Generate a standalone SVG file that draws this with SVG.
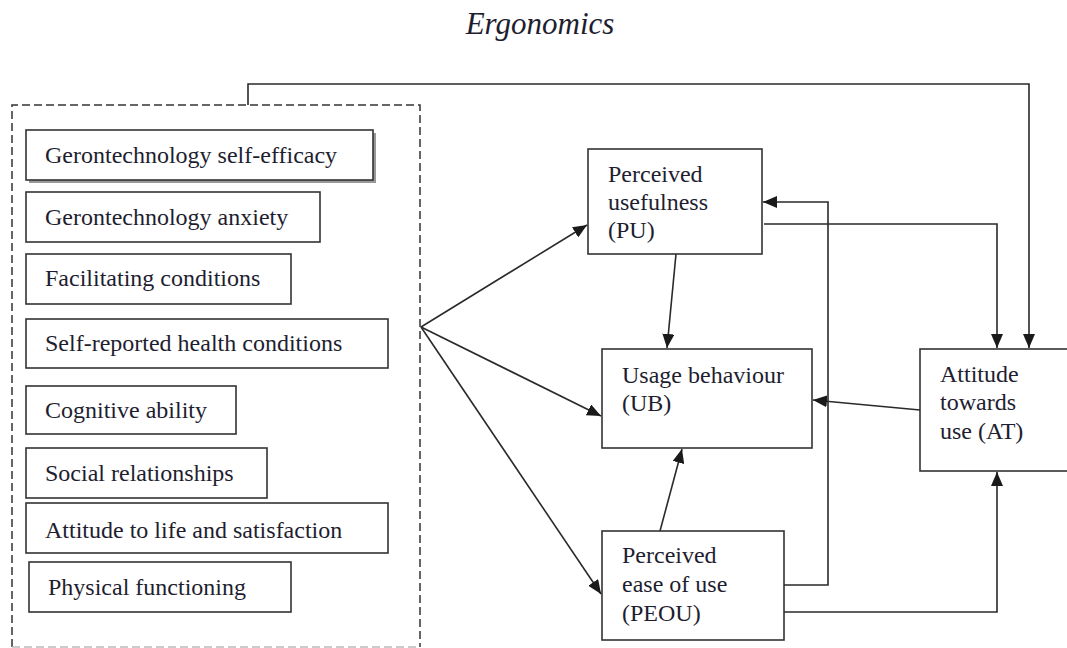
<svg xmlns="http://www.w3.org/2000/svg" width="1067" height="648" viewBox="0 0 1067 648">
<style>
.box{fill:#fff;stroke:#333;stroke-width:1.6}
.t{font-family:"Liberation Serif","Times New Roman",serif;font-size:24px;fill:#1e1e30}
.c{fill:none;stroke:#2a2a2a;stroke-width:1.6}
.title{font-family:"Liberation Serif","Times New Roman",serif;font-size:31px;font-style:italic;fill:#1e1e30}
</style>
<defs>
<marker id="ah" markerUnits="userSpaceOnUse" markerWidth="15" markerHeight="12" refX="14" refY="6" orient="auto">
<path d="M0,0 L14,6 L0,12 z" fill="#1a1a1a"/>
</marker>
</defs>
<rect width="1067" height="648" fill="#fff"/>
<text class="title" x="540" y="34" text-anchor="middle">Ergonomics</text>

<g id="group-factors">
<path d="M12,647 L12,105 L420,105 L420,647" fill="none" stroke="#333" stroke-width="1.5" stroke-dasharray="8,4"/>
<path d="M12,647 L420,647" fill="none" stroke="#bbb" stroke-width="1.5" stroke-dasharray="8,4"/>
</g>

<g id="n-self-efficacy">
<rect x="29" y="133" width="347" height="50" fill="#999"/>
<rect class="box" x="26" y="130" width="347" height="50"/>
<text class="t" x="45" y="163">Gerontechnology self-efficacy</text>
</g>
<g id="n-anxiety">
<rect class="box" x="26" y="192" width="294" height="50"/>
<text class="t" x="45" y="225">Gerontechnology anxiety</text>
</g>
<g id="n-facilitating">
<rect class="box" x="26" y="254" width="265" height="50"/>
<text class="t" x="45" y="286">Facilitating conditions</text>
</g>
<g id="n-health">
<rect class="box" x="26" y="319" width="362" height="49"/>
<text class="t" x="45" y="351">Self-reported health conditions</text>
</g>
<g id="n-cognitive">
<rect class="box" x="26" y="386" width="210" height="48"/>
<text class="t" x="45" y="418">Cognitive ability</text>
</g>
<g id="n-social">
<rect class="box" x="26" y="448" width="241" height="50"/>
<text class="t" x="45" y="481">Social relationships</text>
</g>
<g id="n-attitude-life">
<rect class="box" x="26" y="503" width="362" height="50"/>
<text class="t" x="45" y="538">Attitude to life and satisfaction</text>
</g>
<g id="n-physical">
<rect class="box" x="29" y="562" width="262" height="50"/>
<text class="t" x="48" y="595">Physical functioning</text>
</g>

<g id="n-pu">
<rect class="box" x="588" y="149" width="174" height="105"/>
<text class="t" x="608" y="182">Perceived</text>
<text class="t" x="608" y="210">usefulness</text>
<text class="t" x="608" y="238">(PU)</text>
</g>
<g id="n-ub">
<rect class="box" x="602" y="349" width="210" height="99"/>
<text class="t" x="622" y="383">Usage behaviour</text>
<text class="t" x="622" y="411">(UB)</text>
</g>
<g id="n-peou">
<rect class="box" x="602" y="531" width="182" height="109"/>
<text class="t" x="622" y="563">Perceived</text>
<text class="t" x="622" y="592">ease of use</text>
<text class="t" x="622" y="621">(PEOU)</text>
</g>
<g id="n-at">
<rect class="box" x="920" y="349" width="160" height="122"/>
<text class="t" x="940" y="382">Attitude</text>
<text class="t" x="940" y="410">towards</text>
<text class="t" x="940" y="439">use (AT)</text>
</g>

<g id="connectors">
<path class="c" d="M248,105 L248,84 L1029,84 L1029,348" marker-end="url(#ah)"/>
<path class="c" d="M421,327 L587,225" marker-end="url(#ah)"/>
<path class="c" d="M421,327 L601,416" marker-end="url(#ah)"/>
<path class="c" d="M421,327 L601,594" marker-end="url(#ah)"/>
<path class="c" d="M676,254 L667,348" marker-end="url(#ah)"/>
<path class="c" d="M660,531 L682,449" marker-end="url(#ah)"/>
<path class="c" d="M920,410 L813,400" marker-end="url(#ah)"/>
<path class="c" d="M784,585 L828,585 L828,202 L763,202" marker-end="url(#ah)"/>
<path class="c" d="M764,224 L997,224 L997,348" marker-end="url(#ah)"/>
<path class="c" d="M784,612 L997,612 L997,472" marker-end="url(#ah)"/>
</g>
</svg>
